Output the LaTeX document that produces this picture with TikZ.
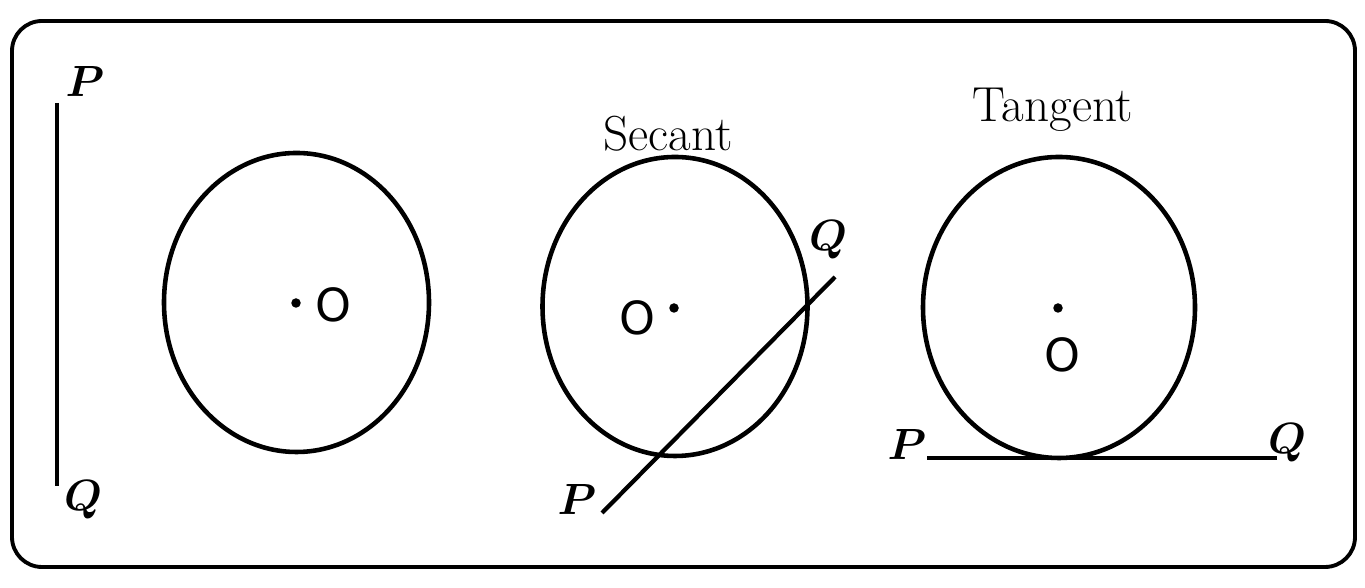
\documentclass[tikz,border=0pt]{standalone}
\usepackage{fontspec}
\newfontfamily\ctrfont{DejaVu Sans}
\usetikzlibrary{positioning,shapes.geometric}
\tikzset{
  frame/.style  = {line width=2.2pt, rounded corners=0.6cm},
  ring/.style   = {draw, ellipse, line width=2.6pt, inner sep=0pt,
                   minimum width=5.3cm, minimum height=5.98cm},
  seg/.style    = {line width=2.4pt},
  ptlbl/.style  = {font=\fontsize{26}{30}\selectfont\boldmath, inner sep=0pt},
  ctrlbl/.style = {font=\ctrfont\fontsize{26}{30}\selectfont, inner sep=0pt},
  title/.style  = {font=\fontsize{28}{32}\selectfont, inner sep=0pt, anchor=base},
  ctrdot/.style = {fill, circle, inner sep=0pt, minimum size=0.19cm},
}
\begin{document}
\begin{tikzpicture}
\useasboundingbox (0,0) rectangle (27.3,11.76);
\draw[frame] (0.24,0.42) rectangle (27.1,11.34);

% ---- a line and a circle apart ----
\coordinate (p0) at (1.14,9.7);
\coordinate (q0) at (1.14,2.04);
\draw[seg] (p0) -- (q0);
\node[ptlbl] (lblP0) at (1.7,10.12) {$P$};
\node[ptlbl] (lblQ0) at (1.66,1.76) {$Q$};

\node[ring] (c1) at (5.93,5.71) {};
\node[ctrdot] (o1) at (5.92,5.7) {};
\node[ctrlbl] (lblO1) at (6.66,5.66) {O};

% ---- secant ----
\node[title] (sec) at (13.36,8.74) {Secant};
\node[ring] (c2) at (13.5,5.63) {};
\node[ctrdot] (o2) at (13.48,5.6) {};
\node[ctrlbl] (lblO2) at (12.74,5.4) {O};
\coordinate (p2) at (12.04,1.5);
\coordinate (q2) at (16.7,6.22);
\draw[seg] (p2) -- (q2);
\node[ptlbl] (lblP2) at (11.54,1.76) {$P$};
\node[ptlbl] (lblQ2) at (16.56,6.96) {$Q$};

% ---- tangent ----
\node[title] (tan) at (21.06,9.32) {Tangent};
\node[ring, minimum width=5.44cm, minimum height=6.02cm] (c3) at (21.18,5.61) {};
\node[ctrdot] (o3) at (21.16,5.6) {};
\node[ctrlbl] (lblO3) at (21.24,4.66) {O};
\coordinate (p3) at (18.54,2.6);
\coordinate (q3) at (25.54,2.6);
\draw[seg] (p3) -- (q3);
\node[ptlbl] (lblP3) at (18.14,2.86) {$P$};
\node[ptlbl] (lblQ3) at (25.74,2.9) {$Q$};

\end{tikzpicture}
\end{document}
